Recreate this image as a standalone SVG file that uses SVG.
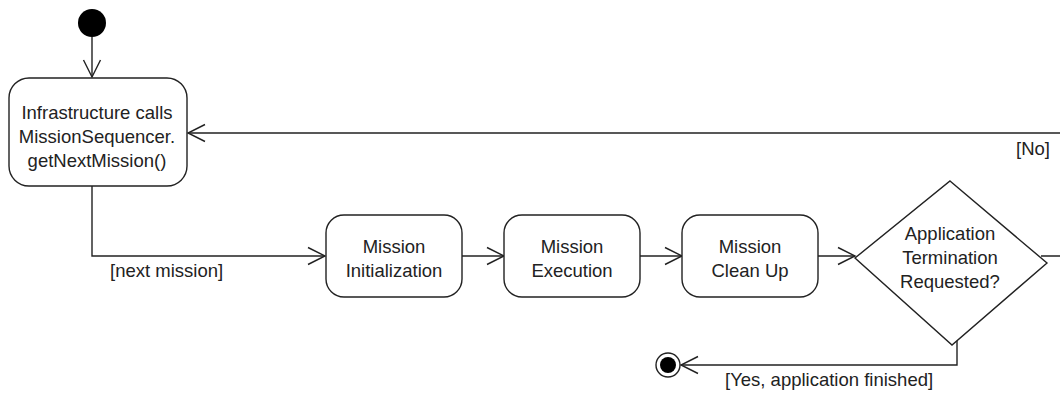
<svg xmlns="http://www.w3.org/2000/svg" width="1060" height="393" viewBox="0 0 1060 393">
<defs>
<style>
.node{fill:#fff;stroke:#222;stroke-width:1.4}
.t{font-family:"Liberation Sans",Arial,sans-serif;font-size:18.5px;fill:#222;text-anchor:middle}
.l{font-family:"Liberation Sans",Arial,sans-serif;font-size:18.5px;fill:#222}
.c{fill:none;stroke:#222;stroke-width:1.4}
</style>
<marker id="arr" markerUnits="userSpaceOnUse" markerWidth="20" markerHeight="20" refX="18" refY="10" orient="auto">
<path d="M1,1.5 L18,10 L1,18.5" fill="none" stroke="#222" stroke-width="1.4"/>
</marker>
</defs>
<rect width="1060" height="393" fill="#fff"/>
<g id="connectors">
<path class="c" d="M92,37 V77" marker-end="url(#arr)"/>
<path class="c" d="M92,186 V256 H325" marker-end="url(#arr)"/>
<path class="c" d="M462,256 H504" marker-end="url(#arr)"/>
<path class="c" d="M640,256 H682" marker-end="url(#arr)"/>
<path class="c" d="M818,256 H855" marker-end="url(#arr)"/>
<path class="c" d="M1041,256 H1080 V133 H188" marker-end="url(#arr)"/>
<path class="c" d="M957,340 V365 H681" marker-end="url(#arr)"/>
<text class="l" x="110" y="277">[next mission]</text>
<text class="l" x="1050" y="155" text-anchor="end">[No]</text>
<text class="l" x="725" y="386">[Yes, application finished]</text>
</g>
<g id="start"><circle cx="92" cy="23" r="14" fill="#000"/></g>
<g id="infra">
<rect class="node" x="9" y="78" width="178" height="108" rx="20"/>
<text class="t" x="97" y="119">Infrastructure calls</text>
<text class="t" x="97" y="143">MissionSequencer.</text>
<text class="t" x="97" y="167">getNextMission()</text>
</g>
<g id="init">
<rect class="node" x="326" y="215" width="136" height="82" rx="18"/>
<text class="t" x="394" y="253">Mission</text>
<text class="t" x="394" y="277">Initialization</text>
</g>
<g id="exec">
<rect class="node" x="504" y="215" width="136" height="82" rx="18"/>
<text class="t" x="572" y="253">Mission</text>
<text class="t" x="572" y="277">Execution</text>
</g>
<g id="cleanup">
<rect class="node" x="682" y="215" width="136" height="82" rx="18"/>
<text class="t" x="750" y="253">Mission</text>
<text class="t" x="750" y="277">Clean Up</text>
</g>
<g id="decision">
<polygon class="node" points="950,181 1047,263 952,345 855,258"/>
<text class="t" x="950" y="240">Application</text>
<text class="t" x="950" y="264">Termination</text>
<text class="t" x="950" y="288">Requested?</text>
</g>
<g id="end">
<circle cx="668" cy="365" r="12" fill="#fff" stroke="#222" stroke-width="1.4"/>
<circle cx="668" cy="365" r="8" fill="#000"/>
</g>
</svg>
